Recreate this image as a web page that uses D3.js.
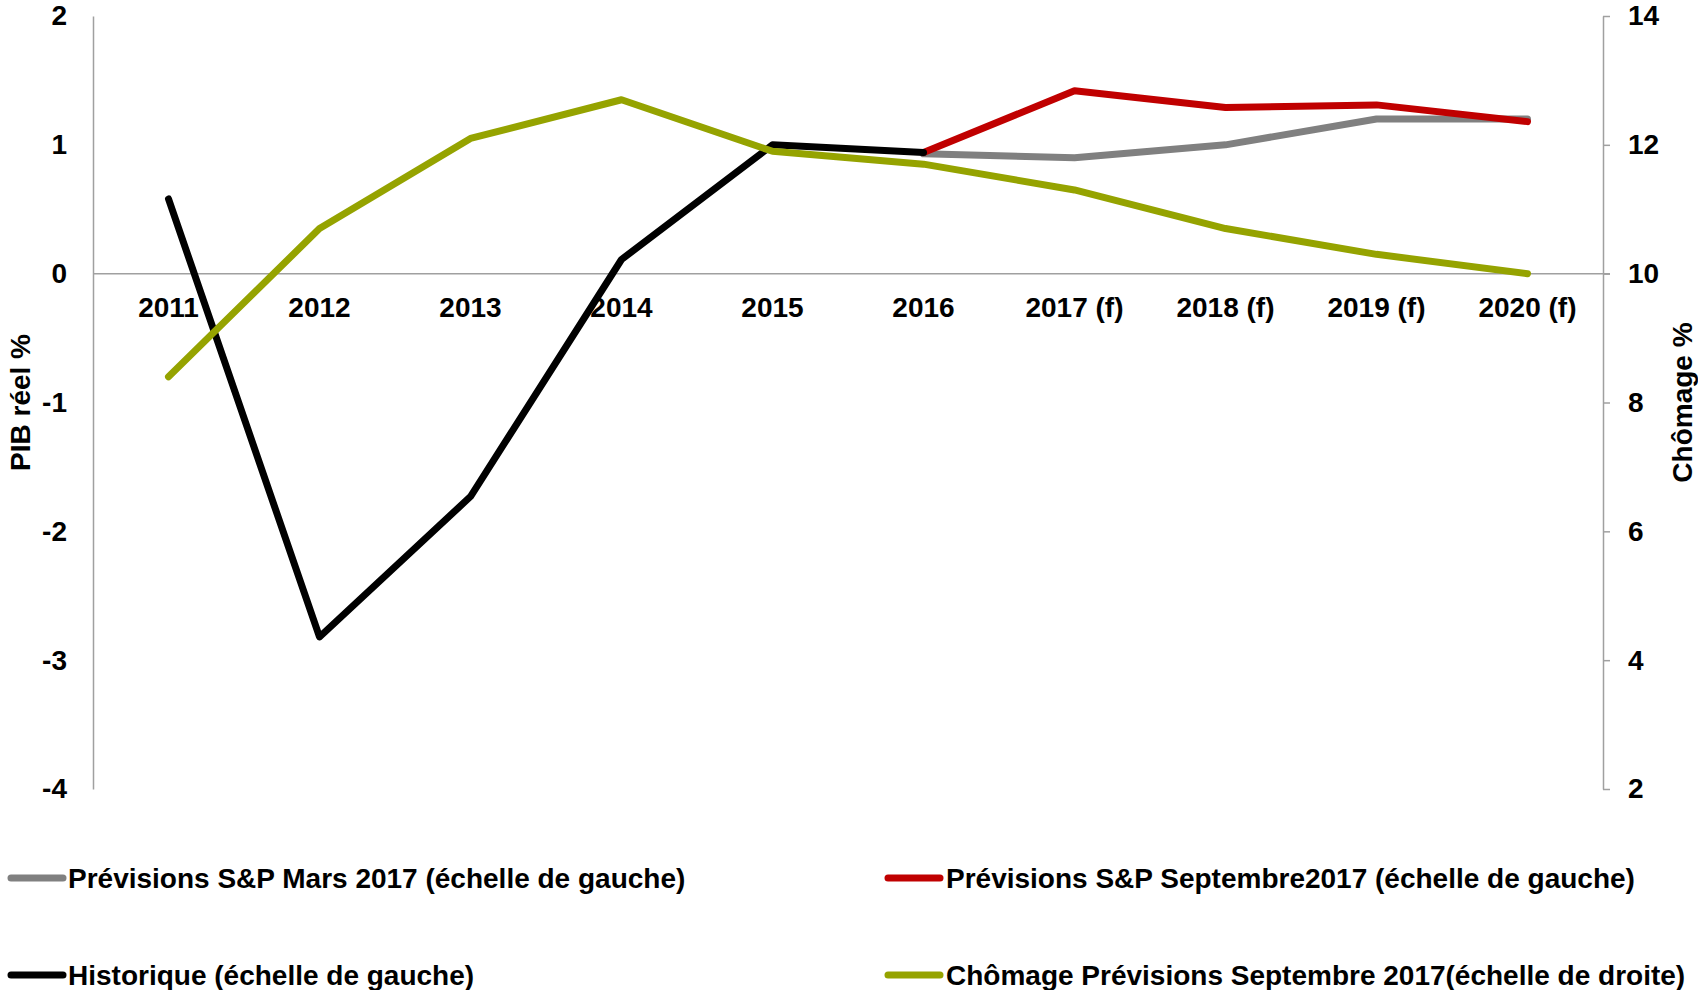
<!DOCTYPE html>
<html>
<head>
<meta charset="utf-8">
<script src="https://cdn.jsdelivr.net/npm/d3@7"></script>
<style>
  html, body { margin: 0; padding: 0; background: #fff; }
  svg { display: block; }
  text { font-family: Arial, "Liberation Sans", Helvetica, sans-serif; font-weight: bold; fill: #000; }
</style>
</head>
<body>
<div id="chart"></div>
<script>
// Data
const years = ['2011', '2012', '2013', '2014', '2015', '2016', '2017 (f)', '2018 (f)', '2019 (f)', '2020 (f)'];
const mars2017 = [null, null, null, null, null, 0.93, 0.90, 1.0, 1.2, 1.2];
const sept2017 = [null, null, null, null, null, 0.94, 1.42, 1.29, 1.31, 1.18];
const historique = [0.58, -2.82, -1.73, 0.11, 1.0, 0.94, null, null, null, null];
const chomage = [8.4, 10.7, 12.1, 12.7, 11.9, 11.7, 11.3, 10.7, 10.3, 10.0];

const leftTicks = [-4, -3, -2, -1, 0, 1, 2];
const rightTicks = [2, 4, 6, 8, 10, 12, 14];

const legendItems = [
  { label: 'Prévisions S&P Mars 2017 (échelle de gauche)', color: '#808080', col: 0, row: 0 },
  { label: 'Prévisions S&P Septembre2017 (échelle de gauche)', color: '#C00000', col: 1, row: 0 },
  { label: 'Historique (échelle de gauche)', color: '#000000', col: 0, row: 1 },
  { label: 'Chômage Prévisions Septembre 2017(échelle de droite)', color: '#95A300', col: 1, row: 1 },
];

// Layout
const W = 1698, H = 990;
const plot = { left: 93, right: 1603, top: 16, bottom: 789 };
const FONT = 28;

const svg = d3.select('#chart').append('svg')
  .attr('width', W).attr('height', H)
  .attr('viewBox', `0 0 ${W} ${H}`);

const x = d3.scaleBand().domain(years).range([plot.left, plot.right]);
const cx = d => x(d) + x.bandwidth() / 2;
const yL = d3.scaleLinear().domain([-4, 2]).range([plot.bottom, plot.top]);
const yR = d3.scaleLinear().domain([2, 14]).range([plot.bottom, plot.top]);

const axisColor = '#A0A0A0';
const plainFmt = d => String(d); // hyphen minus, like the original

// Left axis (line only, no tick marks)
const gL = svg.append('g').attr('transform', `translate(${plot.left},0)`)
  .call(d3.axisLeft(yL).tickValues(leftTicks).tickSize(0).tickPadding(26).tickFormat(plainFmt));
gL.select('.domain').attr('stroke', axisColor).attr('stroke-width', 1.5);
gL.selectAll('text').attr('font-size', FONT).attr('font-family', null).attr('fill', '#000');

// Right axis with outward ticks
const gR = svg.append('g').attr('transform', `translate(${plot.right},0)`)
  .call(d3.axisRight(yR).tickValues(rightTicks).tickSizeInner(7).tickSizeOuter(0).tickPadding(18).tickFormat(plainFmt));
gR.select('.domain').attr('stroke', axisColor).attr('stroke-width', 1.5);
gR.selectAll('.tick line').attr('stroke', axisColor).attr('stroke-width', 1.5);
gR.selectAll('text').attr('font-size', FONT).attr('font-family', null).attr('fill', '#000');

// Zero line / category axis
svg.append('line')
  .attr('x1', plot.left).attr('x2', plot.right + 7)
  .attr('y1', yL(0)).attr('y2', yL(0))
  .attr('stroke', axisColor).attr('stroke-width', 1.5);

// Category labels
svg.append('g').selectAll('text').data(years).join('text')
  .attr('x', d => cx(d)).attr('y', yL(0) + 43)
  .attr('text-anchor', 'middle')
  .attr('font-size', FONT)
  .text(d => d);

// Axis titles
svg.append('text')
  .attr('transform', `translate(30,${(plot.top + plot.bottom) / 2}) rotate(-90)`)
  .attr('text-anchor', 'middle').attr('font-size', FONT)
  .text('PIB réel %');
svg.append('text')
  .attr('transform', `translate(1692,${(plot.top + plot.bottom) / 2}) rotate(-90)`)
  .attr('text-anchor', 'middle').attr('font-size', FONT)
  .text('Chômage %');

// Series
const drawLine = (values, scale, color) => {
  const line = d3.line()
    .defined(d => d != null)
    .x((d, i) => cx(years[i]))
    .y(d => scale(d));
  svg.append('path')
    .datum(values)
    .attr('d', line)
    .attr('fill', 'none')
    .attr('stroke', color)
    .attr('stroke-width', 7)
    .attr('stroke-linecap', 'round')
    .attr('stroke-linejoin', 'round');
};

drawLine(mars2017, yL, '#808080');
drawLine(sept2017, yL, '#C00000');
drawLine(historique, yL, '#000000');
drawLine(chomage, yR, '#95A300');

// Legend
const legCol = [{ sx: 11, tx: 68 }, { sx: 888, tx: 946 }];
const legRow = [878, 975];
const leg = svg.append('g').selectAll('g').data(legendItems).join('g');
leg.append('line')
  .attr('x1', d => legCol[d.col].sx).attr('x2', d => legCol[d.col].sx + 52)
  .attr('y1', d => legRow[d.row]).attr('y2', d => legRow[d.row])
  .attr('stroke', d => d.color).attr('stroke-width', 7).attr('stroke-linecap', 'round');
leg.append('text')
  .attr('x', d => legCol[d.col].tx).attr('y', d => legRow[d.row] + 10)
  .attr('font-size', FONT)
  .text(d => d.label);
</script>
</body>
</html>
